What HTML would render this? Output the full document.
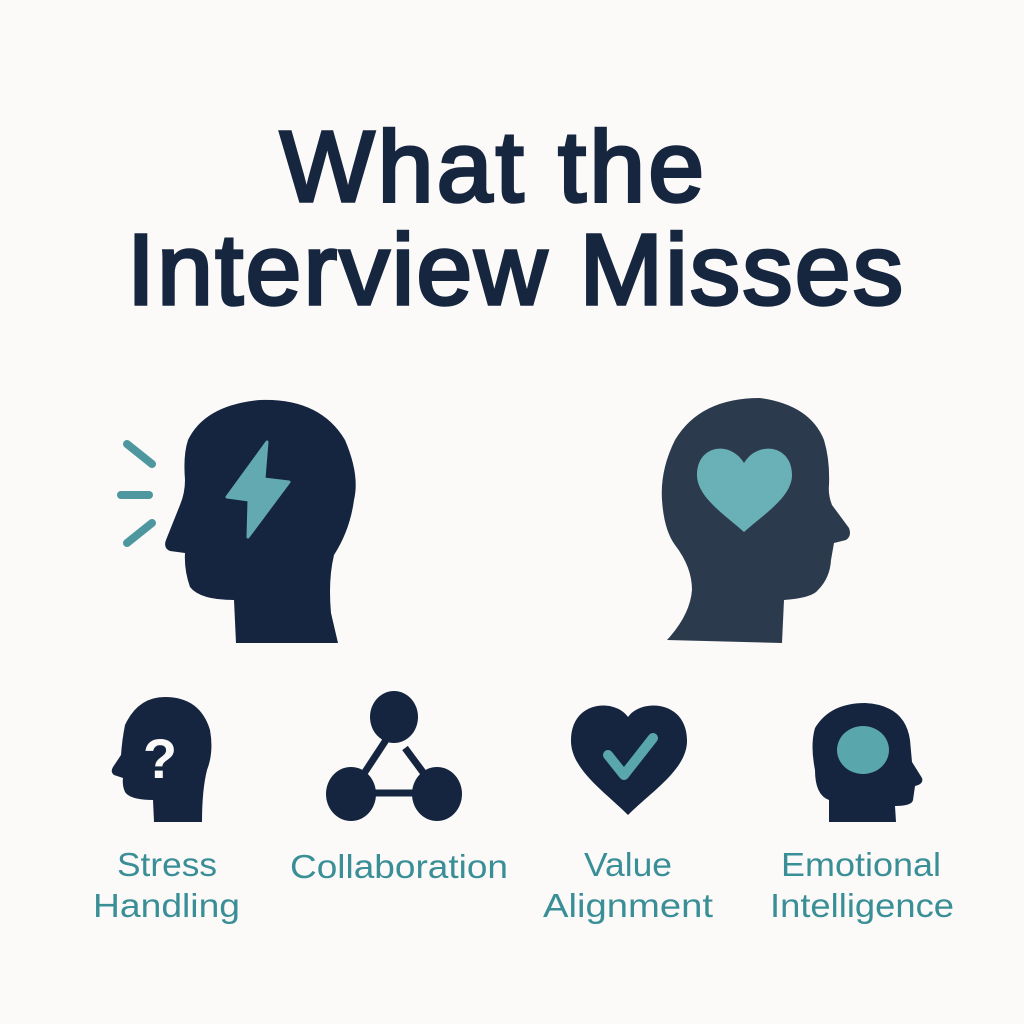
<!DOCTYPE html>
<html><head><meta charset="utf-8"><style>
html,body{margin:0;padding:0;background:#fbfaf8;}
svg{display:block;}
</style></head><body>
<svg width="1024" height="1024" viewBox="0 0 1024 1024" xmlns="http://www.w3.org/2000/svg">
<rect width="1024" height="1024" fill="#fbfaf8"/>
<g font-family="Liberation Sans, sans-serif" font-weight="normal" fill="#17263f" stroke="#17263f" stroke-width="3.5" font-size="100">
<text x="280" y="201" textLength="424" lengthAdjust="spacing">What the</text>
<text x="127" y="304" textLength="776" lengthAdjust="spacing">Interview Misses</text>
</g>
<!-- left head -->
<path d="M236,643 L234,600 Q200,600 190,587 Q184,570 185,553 L170,551 Q163,548 166,540 L180,505 Q185,493 185,480 Q183,455 188,440 Q205,405 260,400 Q320,398 345,440 Q360,475 354,500 Q350,530 334,555 Q328,580 331,613 L338,643 Z" fill="#15253f"/>
<path d="M267,442 L227,497 L249,500 L248,537 L289,482 L264,479 Z" fill="#62a9b1" stroke="#62a9b1" stroke-width="3" stroke-linejoin="round"/>
<g stroke="#4e979f" stroke-width="8" stroke-linecap="round">
<line x1="127" y1="444" x2="152" y2="464"/>
<line x1="121" y1="495" x2="149" y2="495"/>
<line x1="127" y1="543" x2="152" y2="523"/>
</g>
<!-- right head -->
<path d="M782,643 L784,600 Q812,598 818,590 Q830,578 831,560 L834,543 L846,540 Q852,536 849,528 L832,505 Q828,495 829,485 Q830,460 824,440 Q810,405 760,398 Q700,398 675,440 Q660,470 662,500 Q664,530 675,545 Q692,567 692,590 Q690,615 667,640 Z" fill="#2b3b4d"/>
<path d="M744,463 C730,440 697,445 697,475 C697,497 725,515 744,532 C763,515 792,497 792,475 C792,445 758,440 744,463 Z" fill="#6ab1b7"/>
<!-- small head 1 -->
<path d="M154,822 L153,800 Q130,800 125,792 Q122,785 123,778 L114,775 Q110,772 113,767 L121,755 Q122,740 125,725 Q138,697 165,697 Q200,697 210,730 Q214,752 207,770 Q202,790 202,822 Z" fill="#15253f"/>
<text x="160" y="778" font-family="Liberation Sans, sans-serif" font-weight="bold" font-size="56" fill="#fbfaf8" text-anchor="middle">?</text>
<!-- network -->
<g fill="#15253f" stroke="#15253f">
<line x1="386" y1="740" x2="363" y2="775" stroke-width="7"/>
<line x1="405" y1="748" x2="425" y2="775" stroke-width="7"/>
<line x1="360" y1="793" x2="430" y2="793" stroke-width="7"/>
<ellipse cx="394" cy="717" rx="24" ry="26" stroke="none"/>
<ellipse cx="351" cy="794" rx="25" ry="27" stroke="none"/>
<ellipse cx="437" cy="794" rx="25" ry="27" stroke="none"/>
</g>
<!-- heart check -->
<path d="M628,717 C615,698 570,700 571,742 C572,770 605,792 628,815 C651,792 686,770 687,742 C688,700 641,698 628,717 Z" fill="#15253f"/>
<polyline points="608,755 624,775 653,738" fill="none" stroke="#5aa6ad" stroke-width="10" stroke-linecap="round" stroke-linejoin="round"/>
<!-- head 4 -->
<path d="M829,822 L829,800 Q815,795 815,770 Q810,745 815,728 Q830,703 865,703 Q905,705 910,740 L912,762 L922,778 Q924,784 915,786 L913,800 Q912,806 895,806 L896,822 Z" fill="#15253f"/>
<ellipse cx="863" cy="750" rx="26" ry="24" fill="#5aa6ad"/>
<g font-family="Liberation Sans, sans-serif" font-size="33" fill="#3a8f97">
<text x="117" y="876" textLength="100" lengthAdjust="spacingAndGlyphs">Stress</text>
<text x="93" y="917" textLength="147" lengthAdjust="spacingAndGlyphs">Handling</text>
<text x="290" y="878" textLength="218" lengthAdjust="spacingAndGlyphs">Collaboration</text>
<text x="584" y="876" textLength="88" lengthAdjust="spacingAndGlyphs">Value</text>
<text x="543" y="917" textLength="170" lengthAdjust="spacingAndGlyphs">Alignment</text>
<text x="781" y="876" textLength="160" lengthAdjust="spacingAndGlyphs">Emotional</text>
<text x="770" y="917" textLength="184" lengthAdjust="spacingAndGlyphs">Intelligence</text>
</g>
</svg>
</body></html>
